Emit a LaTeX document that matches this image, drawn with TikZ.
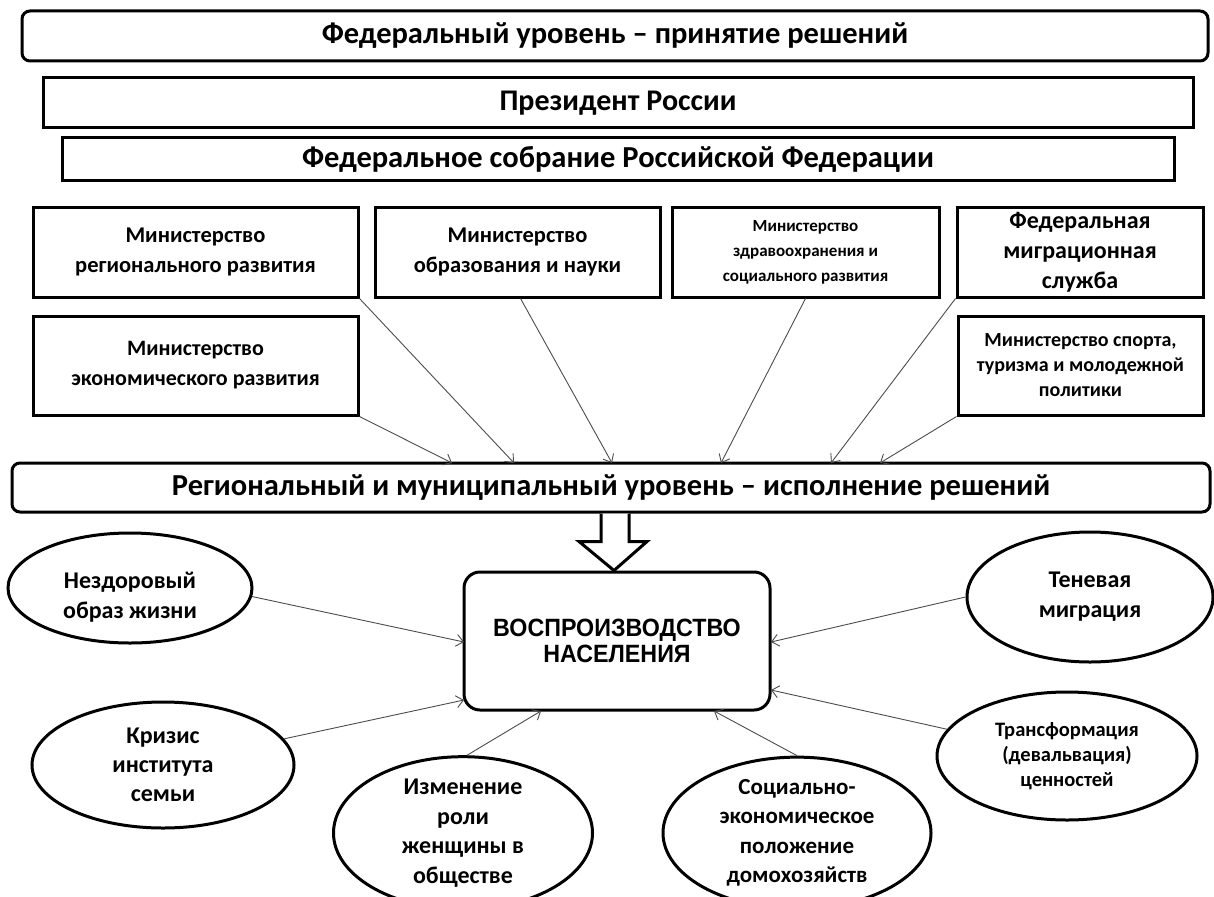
\documentclass[tikz,border=0pt]{standalone}
\usepackage{fontspec}
\setmainfont{Carlito}
\newfontfamily\capfont{Liberation Sans}[FakeStretch=0.93]
\usetikzlibrary{shapes.geometric,arrows.meta,calc}
\begin{document}
\begin{tikzpicture}[x=1pt,y=-1pt,
  bigbox/.style={draw,line width=3pt,rounded corners=8pt,inner sep=0pt,font=\bfseries\fontsize{30.5}{32}\selectfont},
  flatbox/.style={draw,line width=3pt,inner sep=0pt,font=\bfseries\fontsize{30.5}{32}\selectfont},
  minbox/.style={draw,line width=3pt,inner sep=0pt,align=center,font=\bfseries\fontsize{22.5}{30}\selectfont},
  smallbox/.style={draw,line width=3pt,inner sep=0pt,align=center,font=\bfseries\fontsize{17}{25}\selectfont},
  factor/.style={draw,ellipse,line width=3pt,inner sep=0pt,align=center,font=\bfseries\fontsize{24}{30}\selectfont},
  smallfactor/.style={draw,ellipse,line width=3pt,inner sep=0pt,align=center,font=\bfseries\fontsize{20.5}{25}\selectfont},
  thin/.style={draw=black!70,line width=0.9pt,-{Straight Barb[length=7pt,width=12pt]}}]
\useasboundingbox (0,0) rectangle (1214,896);
% federal level
\node[bigbox,minimum width=1186pt,minimum height=50pt] (top) at (615,36) {Федеральный уровень – принятие решений};
\node[flatbox,minimum width=1150pt,minimum height=50pt,font=\bfseries\fontsize{30}{32}\selectfont] (pres) at (618,103) {Президент России};
\node[flatbox,minimum width=1112pt,minimum height=43pt] (fed) at (618,159) {Федеральное собрание Российской Федерации};
% ministries
\node[minbox,minimum width=325pt,minimum height=90pt] (m1) at (195.5,252) {Министерство\\регионального развития};
\node[minbox,minimum width=285pt,minimum height=90pt] (m2) at (517.5,252) {Министерство\\образования и науки};
\node[smallbox,minimum width=267pt,minimum height=90pt] (m3) at (805.5,252) {Министерство\\здравоохранения и\\социального развития};
\node[minbox,minimum width=246pt,minimum height=90pt,font=\bfseries\fontsize{24}{30}\selectfont] (m4) at (1080,252) {Федеральная\\миграционная\\служба};
\node[minbox,minimum width=325pt,minimum height=99pt,font=\bfseries\fontsize{22}{30}\selectfont] (m5) at (195.5,365.5) {Министерство\\экономического развития};
\node[smallbox,minimum width=245pt,minimum height=99pt,font=\bfseries\fontsize{20}{25}\selectfont] (m6) at (1080.5,365.5) {Министерство спорта,\\туризма и молодежной\\политики};
% regional level
\node[bigbox,minimum width=1198pt,minimum height=49pt] (reg) at (611,487.5) {Региональный и муниципальный уровень – исполнение решений};
% central
\node[draw,line width=3pt,rounded corners=16pt,inner sep=0pt,minimum width=306pt,minimum height=138pt,align=center,
  font=\capfont\bfseries\fontsize{25}{26}\selectfont] (cen) at (617,641) {ВОСПРОИЗВОДСТВО\\НАСЕЛЕНИЯ};
% arrow targets on regional level
\coordinate (t1) at (452,463);
\coordinate (t2) at (514,463);
\coordinate (t3) at (612,463);
\coordinate (t4) at (721,463);
\coordinate (t5) at (831,463);
\coordinate (t6) at (880,463);
\draw[thin] (m5.south east) -- (t1);
\draw[thin] (m1.south east) -- (t2);
\draw[thin] (m2.south) ++(3,0) -- (t3);
\draw[thin] (m3.south) -- (t4);
\draw[thin] (m4.south west) -- (t5);
\draw[thin] (m6.south west) -- (t6);
% block arrow
\draw[line width=3pt,fill=white,line join=miter] ($(reg.south)+(-10,0)$) -- ++(0,28) -- ++(-22,0) -- ($(cen.north)+(-3,0)$) -- ($(reg.south)+(36,28)$) -- ++(-18,0) -- ++(0,-28);
% factors
\node[factor,minimum width=244pt,minimum height=110pt] (e1) at (130,588) {\rule{0pt}{34pt}Нездоровый\\образ жизни};
\node[factor,minimum width=262pt,minimum height=126pt,font=\bfseries\fontsize{24}{29}\selectfont] (e2) at (163,765) {Кризис\\института\\семьи};
\node[factor,minimum width=259pt,minimum height=126pt,font=\bfseries\fontsize{24}{29.5}\selectfont] (e3) at (463,833) {Изменение\\роли\\женщины в\\обществе};
\node[factor,minimum width=268pt,minimum height=126pt,font=\bfseries\fontsize{23}{29.5}\selectfont] (e4) at (797,833) {Социально-\\экономическое\\положение\\домохозяйств};
\node[smallfactor,minimum width=260pt,minimum height=128pt] (e5) at (1067,756) {Трансформация\\(девальвация)\\ценностей};
\node[factor,minimum width=246pt,minimum height=130pt] (e6) at (1090,597) {Теневая\\миграция};
\coordinate (c1) at (464,642);
\coordinate (c2) at (464,700);
\coordinate (c3) at (541,711);
\coordinate (c4) at (714,711);
\coordinate (c5) at (771,690);
\coordinate (c6) at (771,642);
\draw[thin] (e1.-4) -- (c1);
\draw[thin] (e2) -- (c2);
\draw[thin] (e3.87) -- (c3);
\draw[thin] (e4.north) -- (c4);
\draw[thin] (e5) -- (c5);
\draw[thin] (e6.west) -- (c6);
\end{tikzpicture}
\end{document}
